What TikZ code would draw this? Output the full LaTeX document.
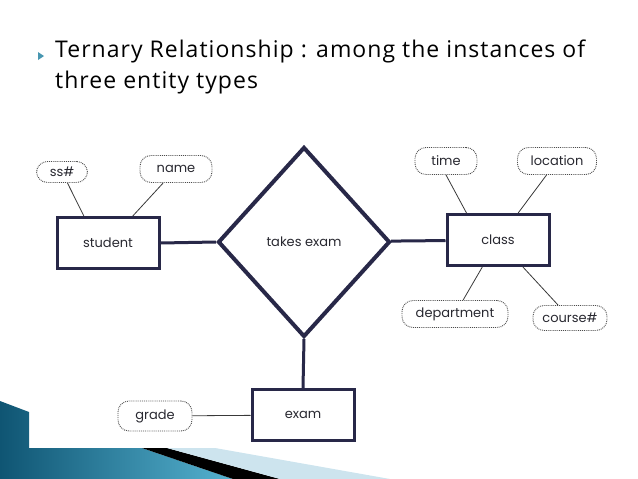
\documentclass[tikz,border=0pt]{standalone}
\usepackage{fontspec}
\setmainfont{Open Sans}[LetterSpace=4.5]
\newfontfamily\erfont{Poppins}
\usetikzlibrary{shapes.geometric,calc}
\definecolor{erline}{RGB}{40,40,72}
\definecolor{ertext}{RGB}{40,40,48}
\definecolor{tealdark}{RGB}{15,85,115}
\definecolor{teallight}{RGB}{85,178,208}
\definecolor{paleblue}{RGB}{205,228,238}
\tikzset{
  entity/.style={draw=erline, line width=3pt, minimum width=102pt, minimum height=51pt,
    font=\erfont\fontsize{13}{15}\selectfont, text=ertext},
  attrib/.style={draw=gray!60!black, densely dotted, line width=0.9pt, rounded corners=11pt,
    minimum height=27pt, inner sep=2pt, font=\erfont\fontsize{13}{15}\selectfont, text=ertext},
  relship/.style={diamond, draw=erline, line width=4pt, minimum width=172pt, minimum height=190pt,
    inner sep=0pt, font=\erfont\fontsize{13}{15}\selectfont, text=ertext},
  link/.style={erline, line width=3pt},
  attlink/.style={gray!45!black, line width=0.8pt},
}
\begin{document}
\begin{tikzpicture}[x=1pt,y=-1pt]
	\useasboundingbox (0,0) rectangle (638,479);
	% bullet and heading
	\fill[teallight!85!black] (38,52) -- (44,56) -- (38,60) -- cycle;
	\node[anchor=base west, inner sep=0pt, font=\fontsize{23}{31}\selectfont] (title) at (55,57) {Ternary Relationship : among the instances of};
	\node[anchor=base west, inner sep=0pt, font=\fontsize{23}{31}\selectfont] (title2) at (55,88) {three entity types};
	% entities and relationship
	\node[entity] (student) at (108,243) {student};
	\node[relship] (takes) at (304,242) {takes exam};
	\node[entity] (class) at (498,240) {class};
	\node[entity] (exam) at (303,415) {exam};
	% attributes
	\node[attrib, minimum width=51pt, minimum height=21pt] (ssn) at (62,172) {ss\#};
	\node[attrib, minimum width=72pt] (name) at (176,169) {name};
	\node[attrib, minimum width=62pt] (time) at (446,161) {time};
	\node[attrib, minimum width=79pt] (location) at (557,161) {location};
	\node[attrib, minimum width=106pt] (department) at (455,314) {department};
	\node[attrib, minimum width=74pt, minimum height=25pt] (course) at (570,318) {course\#};
	\node[attrib, minimum width=74pt, minimum height=30pt] (grade) at (155,416) {grade};
	% connectors
	\draw[link] (student.east) -- (takes.west);
	\draw[link] (takes) -- (class);
	\draw[link] (takes.south) -- (exam.north);
	\draw[attlink] (ssn) -- ($(student.north west)!0.27!(student.north east)$);
	\draw[attlink] (name) -- (student);
	\draw[attlink] (time.south) -- ($(class.north west)!0.2!(class.north east)$);
	\draw[attlink] (location) -- (class);
	\draw[attlink] (department) -- (class);
	\draw[attlink] (course) -- (class);
	\draw[attlink] (grade) -- (exam);
	% corner decoration
	\shade[left color=tealdark, right color=teallight] (0,401) -- (29,412) -- (29,448) -- (142,448) -- (233,479) -- (0,479) -- cycle;
	\fill[black] (142,448) -- (167,448) -- (280,479) -- (233,479) -- cycle;
	\fill[paleblue] (167,448) -- (215,448) -- (390,479) -- (280,479) -- cycle;
\end{tikzpicture}
\end{document}
